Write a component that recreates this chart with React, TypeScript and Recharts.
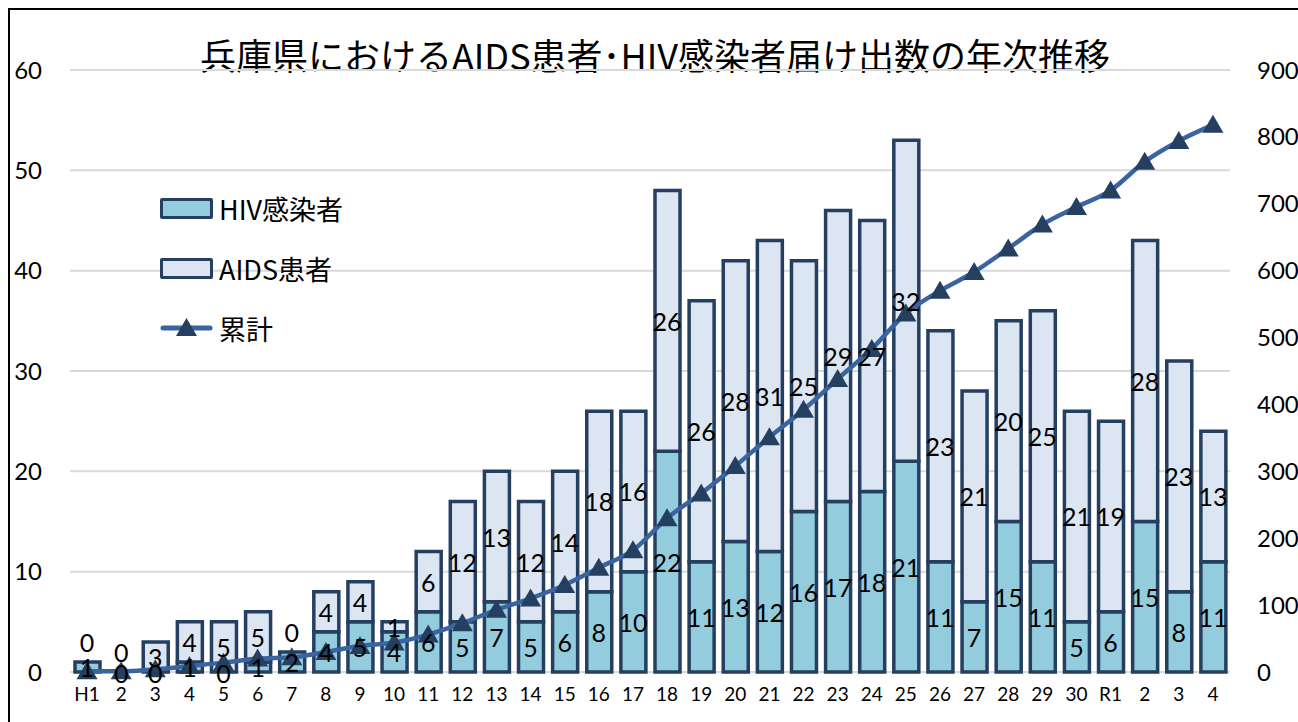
import React from "react";
import { ComposedChart, Bar, Line, XAxis, YAxis, CartesianGrid, LabelList } from "recharts";

// 年次 (平成1年〜令和4年)
const years = [
  "H1", "2", "3", "4", "5", "6", "7", "8", "9", "10",
  "11", "12", "13", "14", "15", "16", "17", "18", "19", "20",
  "21", "22", "23", "24", "25", "26", "27", "28", "29", "30",
  "R1", "2", "3", "4",
];
const hivCases = [
  1, 0, 0, 1, 0, 1, 2, 4, 5, 4,
  6, 5, 7, 5, 6, 8, 10, 22, 11, 13,
  12, 16, 17, 18, 21, 11, 7, 15, 11, 5,
  6, 15, 8, 11,
];
const aidsCases = [
  0, 0, 3, 4, 5, 5, 0, 4, 4, 1,
  6, 12, 13, 12, 14, 18, 16, 26, 26, 28,
  31, 25, 29, 27, 32, 23, 21, 20, 25, 21,
  19, 28, 23, 13,
];
const cumulative = [
  1, 1, 4, 9, 14, 20, 22, 30, 39, 44,
  56, 73, 93, 110, 130, 156, 182, 230, 267, 308,
  351, 392, 438, 483, 536, 570, 598, 633, 669, 695,
  720, 763, 794, 818,
];
const leftTicks = [0, 10, 20, 30, 40, 50, 60];
const rightTicks = [0, 100, 200, 300, 400, 500, 600, 700, 800, 900];

const data = years.map((y, i) => ({
  key: i,
  year: y,
  hiv: hivCases[i],
  aids: aidsCases[i],
  total: cumulative[i],
  // middle of each stacked segment, used to place the value labels
  hivMid: hivCases[i] / 2,
  aidsMid: hivCases[i] + aidsCases[i] / 2,
}));

const W = 1298;
const H = 722;
const NUM_FONT = "Lato, 'Noto Sans', 'Noto Sans CJK JP', sans-serif";
const JP_FONT = "'Noto Sans CJK JP', 'Noto Sans', sans-serif";
const DARK = "#253F61";
const LINE = "#3A64A0";
const HIV_FILL = "#93CDDD";
const AIDS_FILL = "#DCE6F2";

const Triangle = (props: any) => {
  const { cx, cy, index } = props;
  if (cx == null || cy == null) return null;
  return <path key={`tri-${index}`} d={`M${cx},${cy - 10} L${cx + 10.5},${cy + 8} L${cx - 10.5},${cy + 8} Z`} fill={DARK} />;
};

const makeLabel = (zeroShift: number) => (props: any) => {
  const { viewBox, value } = props;
  let x = Number(props.x), y = Number(props.y), w = 0, h = 0;
  if (viewBox) {
    x = Number(viewBox.x); y = Number(viewBox.y);
    w = Number(viewBox.width) || 0; h = Number(viewBox.height) || 0;
  }
  if (!isFinite(x) || !isFinite(y)) return null;
  const cx = x + w / 2;
  let cy = y + h / 2;
  if (value === 0) cy += zeroShift;
  return (
    <text x={cx} y={cy} textAnchor="middle" dominantBaseline="central" fontSize={25} fontFamily={NUM_FONT} fill="#000">
      {value}
    </text>
  );
};

const LegendBox = () => {
  const row: React.CSSProperties = { height: 60, display: "flex", alignItems: "center" };
  const text: React.CSSProperties = { fontSize: 27, fontFamily: JP_FONT, color: "#000", marginLeft: 6, lineHeight: 1 };
  const swatch = (fill: string): React.CSSProperties => ({
    width: 47, height: 15, background: fill, border: `3px solid ${DARK}`, borderRadius: 2,
  });
  return (
    <div>
      <div style={row}><div style={swatch(HIV_FILL)} /><span style={text}>HIV感染者</span></div>
      <div style={row}><div style={swatch(AIDS_FILL)} /><span style={text}>AIDS患者</span></div>
      <div style={row}>
        <svg width={53} height={24}>
          <line x1={3} y1={12} x2={50} y2={12} stroke={LINE} strokeWidth={5} strokeLinecap="round" />
          <path d="M26.5,2 L37,20 L16,20 Z" fill={DARK} />
        </svg>
        <span style={text}>累計</span>
      </div>
    </div>
  );
};

export default function App() {
  return (
    <div style={{ position: "fixed", left: 0, top: 0, width: W, height: H, overflow: "hidden", background: "#fff" }}>
      <div style={{ position: "absolute", left: 8, top: 8, width: 1400, height: 900, border: "2px solid #000" }} />
      <div
        style={{
          position: "absolute", left: 0, width: 1310, top: 29, textAlign: "center",
          fontSize: 36, fontFamily: JP_FONT, color: "#000", lineHeight: "50px",
        }}
      >
        兵庫県におけるAIDS患者･HIV感染者届け出数の年次推移
      </div>
      <div style={{ position: "absolute", left: 0, top: 0 }}>
        <ComposedChart width={W} height={H} data={data} margin={{ top: 70, right: 8, bottom: 10, left: 10 }}>
          <CartesianGrid yAxisId="left" vertical={false} stroke="#D9D9D9" strokeWidth={2} />
          <XAxis
            dataKey="key"
            height={40}
            tickFormatter={(v: number) => years[v]}
            axisLine={false}
            tickLine={false}
            tickSize={0}
            tickMargin={16}
            interval={0}
            tick={{ fontSize: 19, fontFamily: NUM_FONT, fill: "#000" }}
          />
          <YAxis
            yAxisId="left"
            width={60}
            domain={[0, 60]}
            ticks={leftTicks}
            axisLine={false}
            tickLine={false}
            tickSize={0}
            tickMargin={28}
            tick={{ fontSize: 24, fontFamily: NUM_FONT, fill: "#000" }}
          />
          <YAxis
            yAxisId="right"
            orientation="right"
            width={60}
            domain={[0, 900]}
            ticks={rightTicks}
            axisLine={false}
            tickLine={false}
            tickSize={0}
            tickMargin={27}
            tick={{ fontSize: 24, fontFamily: NUM_FONT, fill: "#000", textAnchor: "start" }}
          />
          <Bar yAxisId="left" dataKey="hiv" name="HIV感染者" stackId="a" barSize={25}
            fill={HIV_FILL} stroke={DARK} strokeWidth={3.5} isAnimationActive={false} />
          <Bar yAxisId="left" dataKey="aids" name="AIDS患者" stackId="a" barSize={25}
            fill={AIDS_FILL} stroke={DARK} strokeWidth={3.5} isAnimationActive={false} />
          <Line yAxisId="right" dataKey="total" name="累計" type="monotone" stroke={LINE}
            strokeWidth={4.5} dot={<Triangle />} activeDot={false} isAnimationActive={false} />
        </ComposedChart>
      </div>
      {/* data labels drawn on top of the cumulative line */}
      <div style={{ position: "absolute", left: 0, top: 0 }}>
        <ComposedChart width={W} height={H} data={data} margin={{ top: 70, right: 68, bottom: 50, left: 70 }}>
          <XAxis dataKey="key" hide />
          <YAxis yAxisId="left" domain={[0, 60]} ticks={leftTicks} hide />
          {/* invisible bar keeps the band scale identical to the main chart */}
          <Bar yAxisId="left" dataKey="hiv" barSize={25} fill="none" isAnimationActive={false} />
          <Line yAxisId="left" dataKey="hivMid" stroke="none" dot={false} activeDot={false} isAnimationActive={false}>
            <LabelList dataKey="hiv" content={makeLabel(1)} />
          </Line>
          <Line yAxisId="left" dataKey="aidsMid" stroke="none" dot={false} activeDot={false} isAnimationActive={false}>
            <LabelList dataKey="aids" content={makeLabel(-20)} />
          </Line>
        </ComposedChart>
      </div>
      <div style={{ position: "absolute", left: 160, top: 178 }}>
        <LegendBox />
      </div>
    </div>
  );
}
